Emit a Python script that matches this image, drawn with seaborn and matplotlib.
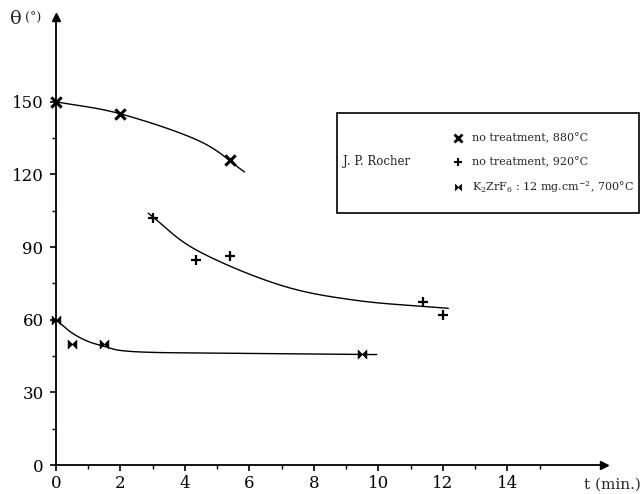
import numpy as np
import pandas as pd
import matplotlib
matplotlib.use("Agg")
import matplotlib.pyplot as plt
import seaborn as sns
from matplotlib.path import Path
from matplotlib.patches import Rectangle

# ---------------- data ----------------
s1_t = [0.0, 2.0, 5.4]            # no treatment, 880 °C
s1_theta = [150, 145, 126]
s2_t = [3.0, 4.35, 5.4, 11.4, 12.0]   # no treatment, 920 °C
s2_theta = [102, 84.5, 86.5, 67.5, 62]
s3_t = [0.0, 0.5, 1.5, 9.5]       # K2ZrF6 : 12 mg.cm-2, 700 °C
s3_theta = [60, 50, 50, 46]

# hand-drawn trend curves (knots)
c1_t = [0.0, 2.0, 4.46, 5.85]
c1_theta = [150, 145, 133.7, 121]
c2_t = [2.86, 4.35, 6.93, 9.3, 12.17]
c2_theta = [104, 88.8, 74.4, 68, 64.7]
c3_t = [0.0, 0.5, 1.0, 1.5, 2.0, 3.0, 5.0, 9.95]
c3_theta = [60, 54.5, 51, 49, 47.3, 46.5, 46.2, 45.6]

x_ticks = [0, 2, 4, 6, 8, 10, 12, 14]
y_ticks = [0, 30, 60, 90, 120, 150]
legend_labels = ["no treatment, 880°C", "no treatment, 920°C",
                 "K$_2$ZrF$_6$ : 12 mg.cm$^{-2}$, 700°C"]
legend_author = "J. P. Rocher"


def catmull(xs, ys, n=40):
    p = np.column_stack([xs, ys]).astype(float)
    p = np.vstack([2 * p[0] - p[1], p, 2 * p[-1] - p[-2]])
    out = []
    for i in range(1, len(p) - 2):
        p0, p1, p2, p3 = p[i - 1], p[i], p[i + 1], p[i + 2]
        t = np.linspace(0, 1, n, endpoint=False)[:, None]
        seg = 0.5 * ((2 * p1) + (-p0 + p2) * t + (2 * p0 - 5 * p1 + 4 * p2 - p3) * t ** 2
                     + (-p0 + 3 * p1 - 3 * p2 + p3) * t ** 3)
        out.append(seg)
    out.append(p[-2][None, :])
    out = np.vstack(out)
    return out[:, 0], out[:, 1]


sns.set_theme(style="white")
plt.rcParams["font.family"] = ["DejaVu Serif", "DejaVu Sans"]
plt.rcParams["mathtext.fontset"] = "dejavuserif"

W, H = 643, 494
fig = plt.figure(figsize=(W / 100, H / 100), dpi=100)
ax = fig.add_axes([56 / W, (H - 465) / H, 548 / W, 448 / H])
ax.set_xlim(0, 17)
ax.set_ylim(0, 185)

for sp in ["top", "right"]:
    ax.spines[sp].set_visible(False)
for sp in ["left", "bottom"]:
    ax.spines[sp].set_linewidth(1.3)
    ax.spines[sp].set_color("black")

# curves
for ct, cy in [(c1_t, c1_theta), (c2_t, c2_theta), (c3_t, c3_theta)]:
    sx, sy = catmull(ct, cy)
    df = pd.DataFrame({"t": sx, "theta": sy})
    sns.lineplot(data=df, x="t", y="theta", sort=False, color="black",
                 linewidth=1.0, ax=ax)

bowtie = Path([(-1, -1), (-1, 1), (1, -1), (1, 1), (-1, -1)],
              [Path.MOVETO, Path.LINETO, Path.LINETO, Path.LINETO, Path.CLOSEPOLY])

sns.scatterplot(x=s1_t, y=s1_theta, marker="x", s=55, color="black",
                linewidth=2.2, ax=ax, clip_on=False, zorder=5)
sns.scatterplot(x=s2_t, y=s2_theta, marker="+", s=50, color="black",
                linewidth=1.6, ax=ax, clip_on=False, zorder=5)
sns.scatterplot(x=s3_t, y=s3_theta, marker=bowtie, s=40, color="black",
                linewidth=0.5, edgecolor="black", ax=ax, clip_on=False, zorder=5)

# axes arrows
ax.plot([1], [0], marker=">", color="black", markersize=6, transform=ax.transAxes,
        clip_on=False)
ax.plot([0], [1], marker="^", color="black", markersize=6, transform=ax.transAxes,
        clip_on=False)

ax.set_xticks(x_ticks)
ax.set_xticks(list(range(1, 16, 2)), minor=True)
ax.set_yticks(y_ticks)
ax.set_yticks([15, 45, 75, 105, 135], minor=True)
ax.set_xticklabels([str(v) for v in x_ticks])
ax.set_yticklabels([str(v) for v in y_ticks])
ax.tick_params(axis="both", which="major", direction="out", length=4, width=1.2,
               color="black", labelsize=12, labelcolor="black", bottom=True, left=True)
ax.tick_params(axis="x", which="major", pad=3.5)
ax.tick_params(axis="y", which="major", pad=5)
ax.tick_params(axis="both", which="minor", direction="out", length=3, width=1.0,
               color="black", bottom=True, left=True)
ax.set_xlabel("")
ax.set_ylabel("")

# axis titles
fig.text(10 / W, 1 - 19 / H, "θ", fontsize=14, va="center", ha="left")
fig.text(25 / W, 1 - 18 / H, "(°)", fontsize=9, va="center", ha="left")
fig.text(641 / W, 1 - 485 / H, "t (min.)", fontsize=11, va="center", ha="right")

# legend box
fig.add_artist(Rectangle((337 / W, 1 - 213 / H), (639 - 337) / W, (213 - 113) / H,
                         transform=fig.transFigure, fill=False, edgecolor="black",
                         linewidth=1.2))
fig.text(343 / W, 1 - 162 / H, legend_author, fontsize=8.5, va="center", ha="left")
lax = fig.add_axes([0, 0, 1, 1], facecolor="none")
lax.set_xlim(0, W)
lax.set_ylim(H, 0)
lax.axis("off")
rows_y = [138, 162, 187]
lax.plot([458], [rows_y[0]], marker="x", color="black", markersize=5.5, mew=2.0)
lax.plot([458], [rows_y[1]], marker="+", color="black", markersize=6, mew=1.5)
lax.plot([458], [rows_y[2]], marker=bowtie, color="black", markersize=4.5, mew=0.5)
for y, lab in zip(rows_y, legend_labels):
    lax.text(472, y, lab, fontsize=8, va="center", ha="left")

fig.savefig("out.png", dpi=100)
